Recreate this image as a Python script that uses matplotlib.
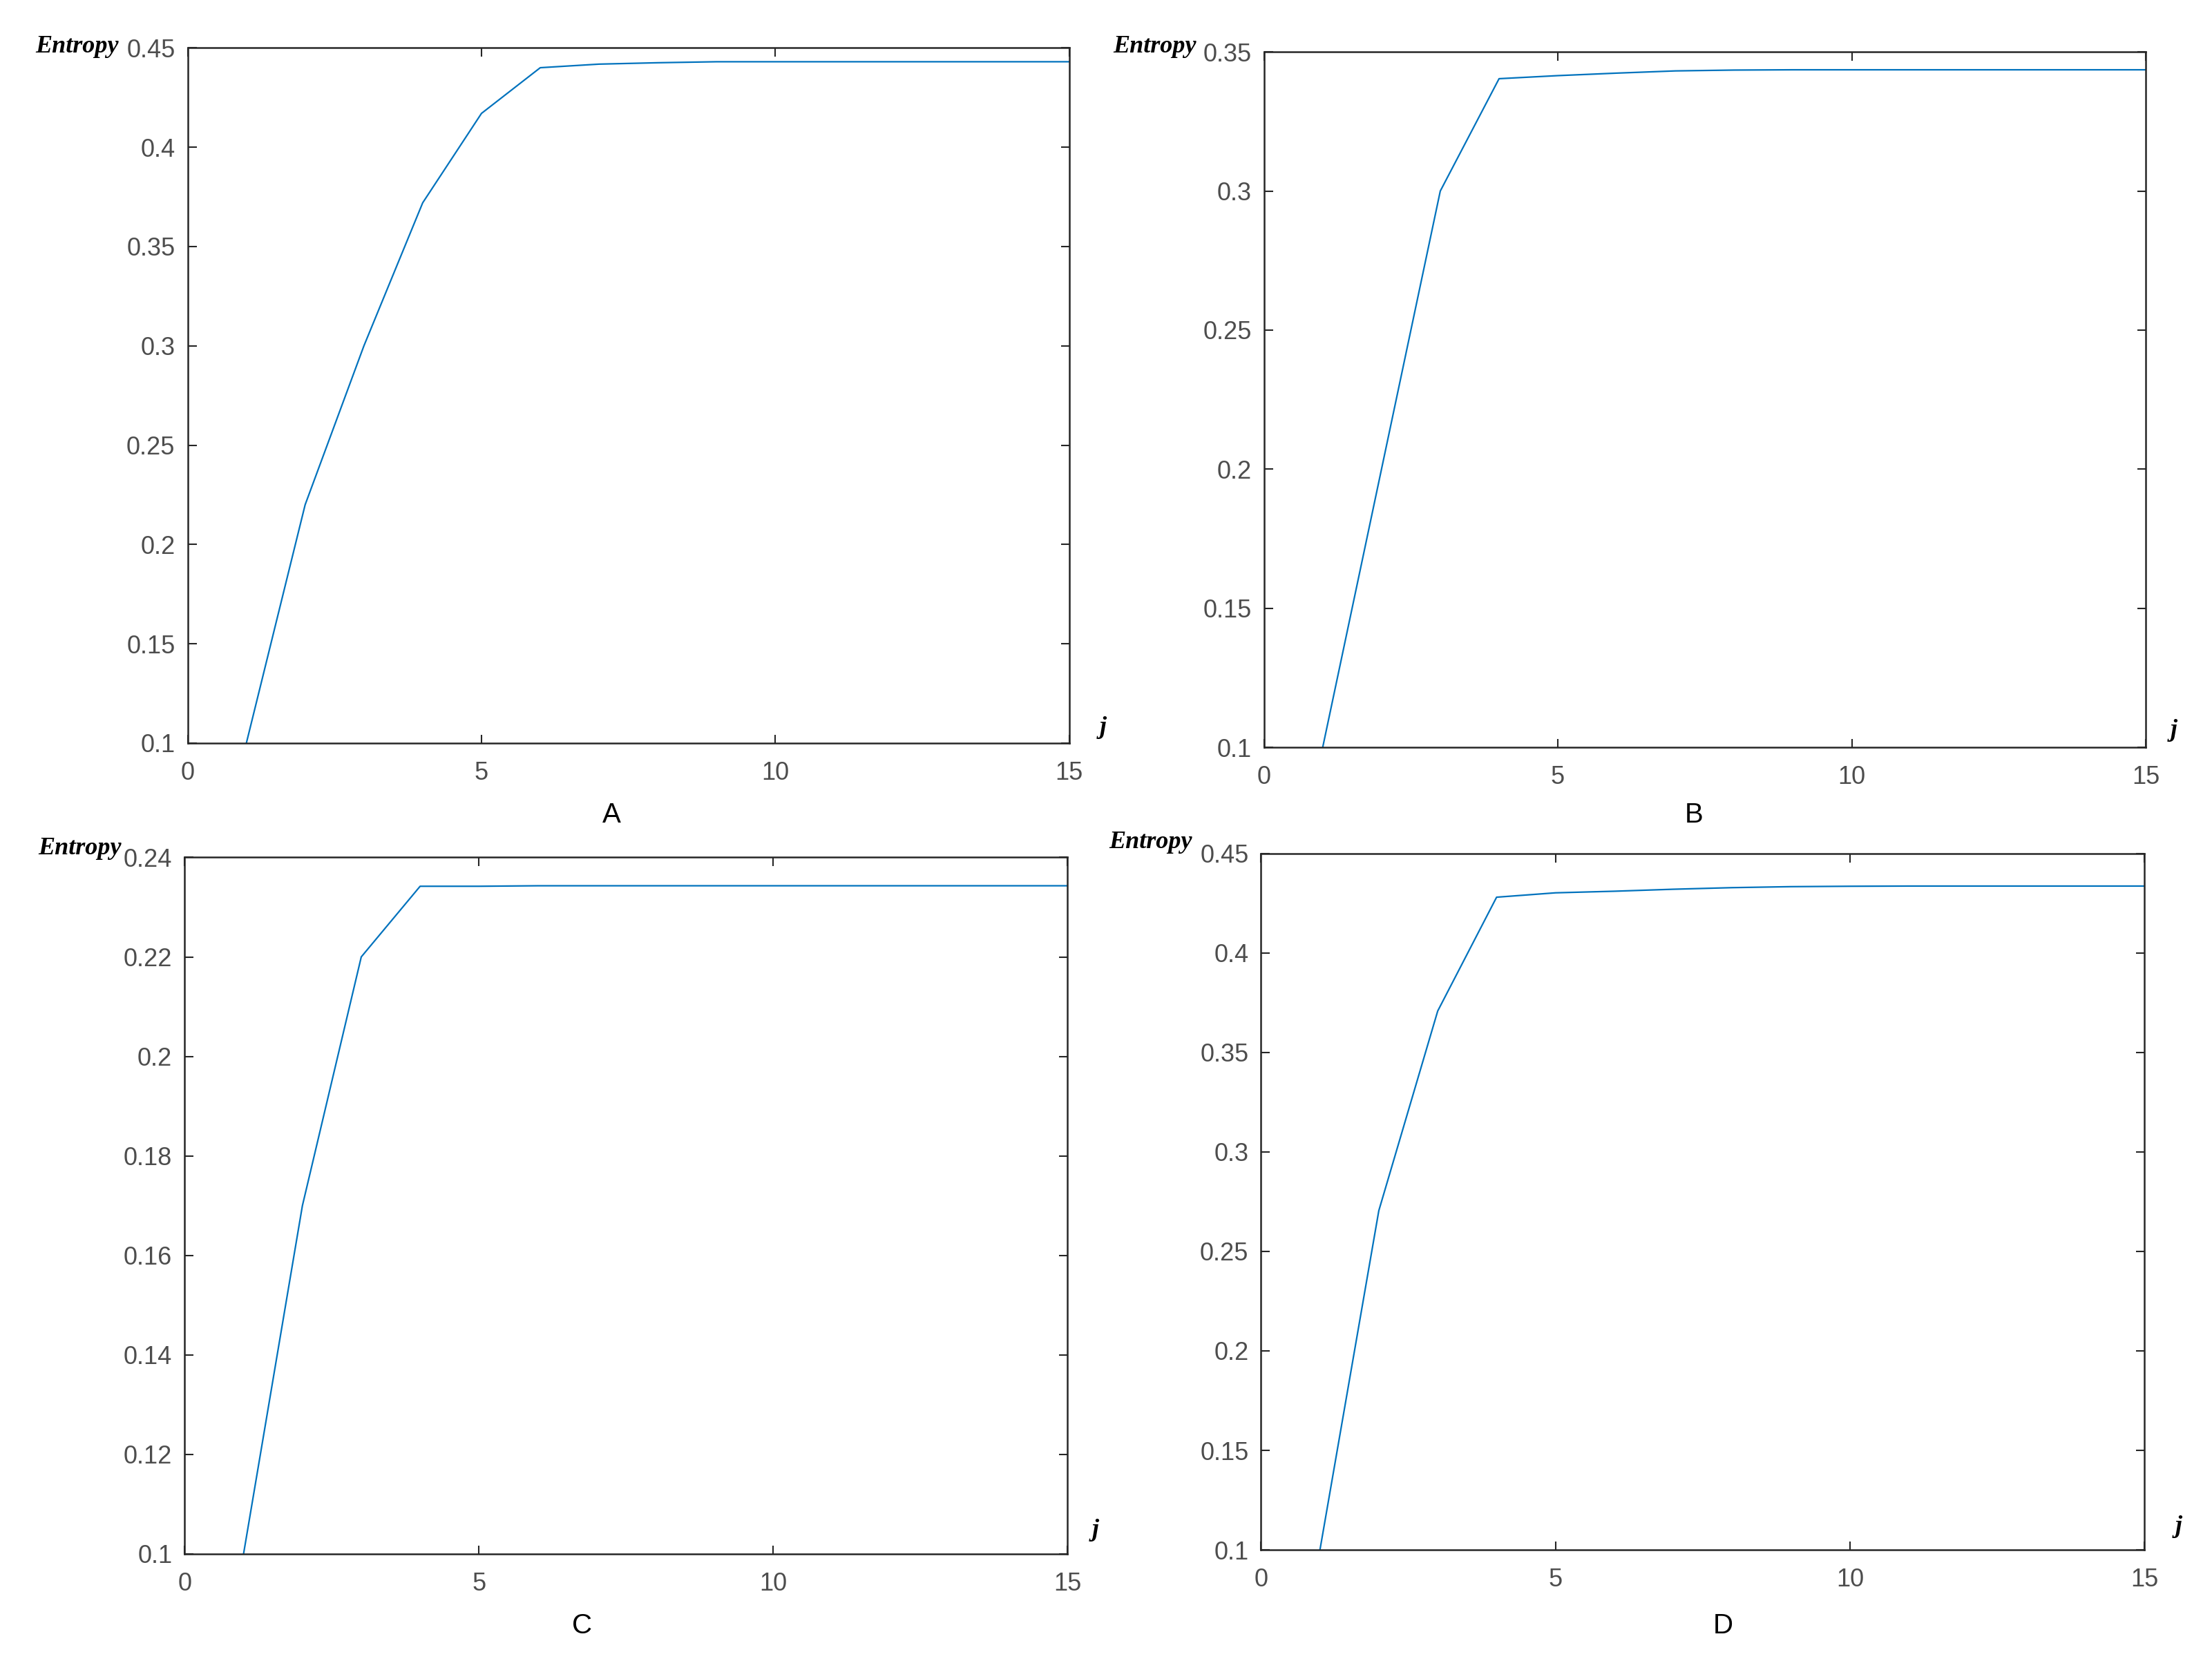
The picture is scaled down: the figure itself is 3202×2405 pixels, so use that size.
import matplotlib
matplotlib.use('Agg')
import matplotlib.pyplot as plt
from matplotlib.ticker import FuncFormatter

# iteration index j
j = list(range(1, 16))

# entropy per panel
entropy_a = [0.1, 0.22, 0.30, 0.372, 0.417, 0.44, 0.4418, 0.4425, 0.443, 0.443,
             0.443, 0.443, 0.443, 0.443, 0.443]
entropy_b = [0.1, 0.2, 0.3, 0.3404, 0.3415, 0.3424, 0.3432, 0.3435, 0.3436, 0.3436,
             0.3436, 0.3436, 0.3436, 0.3436, 0.3436]
entropy_c = [0.1, 0.17, 0.22, 0.2342, 0.2342, 0.2343, 0.2343, 0.2343, 0.2343, 0.2343,
             0.2343, 0.2343, 0.2343, 0.2343, 0.2343]
entropy_d = [0.1, 0.2705, 0.3708, 0.428, 0.4302, 0.431, 0.432, 0.4328, 0.4333, 0.4335,
             0.4336, 0.4336, 0.4336, 0.4336, 0.4336]

panel_names = ['A', 'B', 'C', 'D']
y_limits = [(0.1, 0.45), (0.1, 0.35), (0.1, 0.24), (0.1, 0.45)]
y_ticks = [
    [0.1, 0.15, 0.2, 0.25, 0.3, 0.35, 0.4, 0.45],
    [0.1, 0.15, 0.2, 0.25, 0.3, 0.35],
    [0.1, 0.12, 0.14, 0.16, 0.18, 0.2, 0.22, 0.24],
    [0.1, 0.15, 0.2, 0.25, 0.3, 0.35, 0.4, 0.45],
]
x_ticks = [0, 5, 10, 15]

# layout (figure fractions) and label offsets (axes fractions)
rects = [
    [0.0848, 0.5526, 0.3986, 0.4186],
    [0.5714, 0.5501, 0.3986, 0.4186],
    [0.0835, 0.0645, 0.3991, 0.4193],
    [0.5701, 0.0669, 0.3993, 0.4193],
]
entropy_pos = [(-0.078, 1.002), (-0.077, 1.008), (-0.072, 1.013), (-0.078, 1.016)]
j_pos = [(1.038, 0.022), (1.032, 0.024), (1.032, 0.034), (1.039, 0.033)]
name_pos = [(0.481, -0.103), (0.488, -0.097), (0.450, -0.103), (0.523, -0.109)]

LINE = '#0072BD'
AXC = '#262626'
TICKC = '#4d4d4d'
SANS = 'Liberation Sans'
SERIF = 'Liberation Serif'

fig = plt.figure(figsize=(32.02, 24.05), dpi=100)
fig.patch.set_facecolor('white')

data = [entropy_a, entropy_b, entropy_c, entropy_d]
for i in range(4):
    ax = fig.add_axes(rects[i])
    ax.plot(j, data[i], color=LINE, lw=1.6)
    ax.set_xlim(0, 15)
    ax.set_ylim(*y_limits[i])
    ax.set_xticks(x_ticks)
    ax.set_yticks(y_ticks[i])
    ax.yaxis.set_major_formatter(FuncFormatter(lambda v, p: '%g' % round(v, 4)))
    for s in ax.spines.values():
        s.set_color(AXC)
        s.set_linewidth(1.8)
    ax.tick_params(direction='in', length=9, width=1.5, color=AXC,
                   top=True, right=True, labelsize=26, labelcolor=TICKC)
    ax.tick_params(axis='y', pad=13)
    ax.tick_params(axis='x', pad=19)
    for lab in ax.get_xticklabels() + ax.get_yticklabels():
        lab.set_fontfamily(SANS)

    ax.text(entropy_pos[i][0], entropy_pos[i][1], 'Entropy', transform=ax.transAxes,
            ha='right', va='center', fontsize=26, fontfamily=SERIF,
            fontweight='bold', fontstyle='italic', color='black')
    ax.text(j_pos[i][0], j_pos[i][1], 'j', transform=ax.transAxes,
            ha='center', va='center', fontsize=26, fontfamily=SERIF,
            fontweight='bold', fontstyle='italic', color='black')
    ax.text(name_pos[i][0], name_pos[i][1], panel_names[i], transform=ax.transAxes,
            ha='center', va='center', fontsize=29, fontfamily=SANS, color='black')

fig.savefig('out.png', dpi=100, facecolor='white')
plt.close(fig)
